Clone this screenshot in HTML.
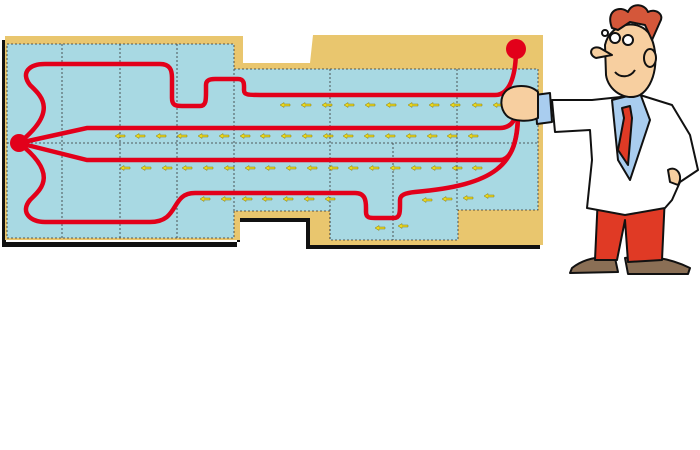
<!DOCTYPE html>
<html><head><meta charset="utf-8"><style>html,body{margin:0;padding:0;background:#fff}svg{display:block}</style></head>
<body>
<svg width="700" height="450" viewBox="0 0 700 450" xmlns="http://www.w3.org/2000/svg">
<defs>
<g id="a"><path d="M0,0 L4,-2.5 L4,-1 L10,-1 L10,1 L4,1 L4,2.5 Z" fill="#e8d820" stroke="#8a7a10" stroke-width="0.5"/></g>
</defs>
<!-- shadow -->
<path d="M2,40 L2,247 L237,247 L237,222 L306,222 L306,249 L540,249 L540,243 L310,243 L310,218 L240,218 L240,242 L6,242 L6,40 Z" fill="#111"/>
<!-- tan board -->
<path d="M5,36 L243,36 L243,63 L310,63 L313,35 L543,35 L543,245 L310,245 L310,218 L240,218 L240,240 L5,240 Z" fill="#e9c66e"/>
<!-- blue panel -->
<path d="M7,44 L234,44 L234,69 L538,69 L538,210 L458,210 L458,240 L330,240 L330,211 L234,211 L234,238 L7,238 Z" fill="#a8d9e3" stroke="#333" stroke-width="0.8" stroke-dasharray="2,2"/>
<g stroke="#333" stroke-width="0.8" stroke-dasharray="2,2" fill="none">
<line x1="62" y1="44" x2="62" y2="238"/><line x1="120" y1="44" x2="120" y2="238"/><line x1="177" y1="44" x2="177" y2="238"/><line x1="234" y1="69" x2="234" y2="211"/>
<line x1="330" y1="69" x2="330" y2="240"/><line x1="393" y1="143" x2="393" y2="240"/><line x1="457" y1="69" x2="457" y2="210"/>
<line x1="7" y1="143" x2="538" y2="143"/>
</g>
<!-- arrows -->
<g>
<use href="#a" x="115" y="136"/><use href="#a" x="135" y="136"/><use href="#a" x="156" y="136"/><use href="#a" x="177" y="136"/><use href="#a" x="198" y="136"/><use href="#a" x="219" y="136"/><use href="#a" x="240" y="136"/><use href="#a" x="260" y="136"/><use href="#a" x="281" y="136"/><use href="#a" x="302" y="136"/><use href="#a" x="323" y="136"/><use href="#a" x="343" y="136"/><use href="#a" x="364" y="136"/><use href="#a" x="385" y="136"/><use href="#a" x="406" y="136"/><use href="#a" x="427" y="136"/><use href="#a" x="447" y="136"/><use href="#a" x="468" y="136"/>
<use href="#a" x="120" y="168"/><use href="#a" x="141" y="168"/><use href="#a" x="162" y="168"/><use href="#a" x="182" y="168"/><use href="#a" x="203" y="168"/><use href="#a" x="224" y="168"/><use href="#a" x="245" y="168"/><use href="#a" x="265" y="168"/><use href="#a" x="286" y="168"/><use href="#a" x="307" y="168"/><use href="#a" x="328" y="168"/><use href="#a" x="348" y="168"/><use href="#a" x="369" y="168"/><use href="#a" x="390" y="168"/><use href="#a" x="411" y="168"/><use href="#a" x="431" y="168"/><use href="#a" x="452" y="168"/><use href="#a" x="472" y="168"/>
<use href="#a" x="200" y="199"/><use href="#a" x="221" y="199"/><use href="#a" x="242" y="199"/><use href="#a" x="262" y="199"/><use href="#a" x="283" y="199"/><use href="#a" x="304" y="199"/><use href="#a" x="325" y="199"/><use href="#a" x="422" y="200"/><use href="#a" x="442" y="199"/><use href="#a" x="463" y="198"/><use href="#a" x="484" y="196"/>
<use href="#a" x="375" y="228"/><use href="#a" x="398" y="226"/>
<use href="#a" x="280" y="105"/><use href="#a" x="301" y="105"/><use href="#a" x="322" y="105"/><use href="#a" x="344" y="105"/><use href="#a" x="365" y="105"/><use href="#a" x="386" y="105"/><use href="#a" x="408" y="105"/><use href="#a" x="429" y="105"/><use href="#a" x="450" y="105"/><use href="#a" x="472" y="105"/><use href="#a" x="493" y="105"/>
</g>
<!-- red lines -->
<g stroke="#e2001a" stroke-width="4.5" fill="none" stroke-linecap="round">
<path d="M19,143 C60,110 40,95 30,85 C20,72 30,64 45,64 L160,64 C170,64 172,70 172,78 L172,98 C172,105 175,106 182,106 L200,106 C206,106 206,100 206,92 L206,85 C206,80 210,79 215,79 L238,79 C245,79 244,85 244,90 C244,95 248,95 260,95 L495,95 C512,95 516,70 516,49"/>
<path d="M19,143 L87,128 L500,128 C512,128 518,118 518,100"/>
<path d="M19,143 L87,160 L500,160 C512,160 518,140 518,110"/>
<path d="M19,143 C60,175 40,190 30,200 C20,212 30,222 45,222 L150,222 C180,222 170,193 195,193 L355,193 C365,193 366,200 366,208 L366,212 C366,218 370,218 375,218 L394,218 C400,218 400,212 400,205 L400,200 C400,195 405,193 415,192 C495,185 518,165 518,115"/>
</g>
<circle cx="19" cy="143" r="9" fill="#e2001a"/>
<circle cx="516" cy="49" r="10" fill="#e2001a"/>
<!-- character -->
<g stroke="#111" stroke-width="2" stroke-linejoin="round">
<!-- shoes -->
<path d="M572,268 C585,258 600,256 615,258 L618,272 L570,273 Z" fill="#8a6f55"/>
<path d="M625,258 C645,254 670,258 690,268 L688,274 L628,274 Z" fill="#8a6f55"/>
<!-- pants -->
<path d="M598,195 L665,195 L662,260 L628,262 L625,220 L617,260 L595,260 Z" fill="#e03a25"/>
<!-- coat -->
<path d="M592,100 L640,95 L672,105 L690,135 L698,170 L680,182 L672,200 L665,208 L625,215 L587,208 L592,160 L590,130 L555,132 L552,100 Z" fill="#fff"/>
<!-- shirt -->
<path d="M612,100 L640,93 L650,120 L630,180 L618,160 Z" fill="#a9cdef"/>
<!-- tie -->
<path d="M622,108 L630,106 L632,118 L628,165 L618,150 L624,118 Z" fill="#e03a25"/>
<!-- sleeve cuff -->
<path d="M535,95 L550,93 L552,122 L537,124 Z" fill="#a9cdef"/>
<!-- hand on hip -->
<path d="M668,170 C676,165 684,175 678,185 L670,182 Z" fill="#f7cfa0"/>
<!-- fist -->
<path d="M505,92 C512,84 530,84 538,92 L538,118 C530,122 512,122 506,115 C500,108 500,98 505,92 Z" fill="#f7cfa0"/>
<!-- head -->
<path d="M605,45 C610,22 640,18 650,35 C660,55 656,85 640,95 C625,102 608,90 606,75 Z" fill="#f7cfa0"/>
<!-- nose -->
<path d="M600,48 C590,45 588,55 596,58 L612,55 Z" fill="#f7cfa0"/>
<!-- ear -->
<ellipse cx="650" cy="58" rx="6" ry="9" fill="#f7cfa0"/>
<!-- hair -->
<path d="M612,28 C605,10 620,5 628,12 C632,2 645,4 648,12 C655,8 665,14 660,22 L652,40 L645,25 L630,22 L618,30 Z" fill="#d4573a"/>
<circle cx="615" cy="38" r="5" fill="#fff"/><circle cx="628" cy="40" r="5" fill="#fff"/><circle cx="605" cy="33" r="3" fill="#fff"/>
<path d="M615,72 C620,78 630,78 635,70" fill="none"/>
</g>
</svg>
</body></html>
